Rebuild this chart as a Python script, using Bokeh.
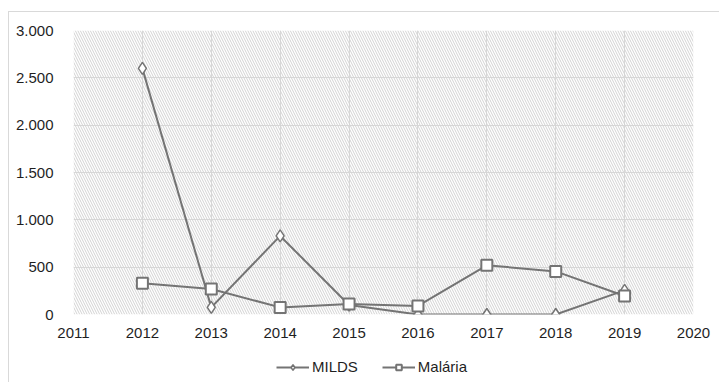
from bokeh.plotting import figure
from bokeh.layouts import column
from bokeh.models import BoxAnnotation, Legend, LegendItem, FixedTicker
from bokeh.embed import file_html
from bokeh.resources import INLINE

years = [2012, 2013, 2014, 2015, 2016, 2017, 2018, 2019]
milds = [2600, 75, 830, 100, 0, 0, 0, 255]
malaria = [330, 270, 75, 110, 90, 520, 455, 195]
y_ticks = [0, 500, 1000, 1500, 2000, 2500, 3000]
y_labels = ["0", "500", "1.000", "1.500", "2.000", "2.500", "3.000"]
x_ticks = list(range(2011, 2021))
series_names = ["MILDS", "Malária"]

FONT = "Liberation Sans"
TXT = "#1f1f1f"
GRID = "#d9d9d9"
LINE = "#747474"
FS = "15px"

p = figure(width=712, height=332, output_backend="svg", toolbar_location=None,
           x_range=(2011, 2020), y_range=(0, 3000),
           min_border_left=64, min_border_right=28, min_border_top=18, min_border_bottom=30)

p.add_layout(BoxAnnotation(fill_alpha=0, line_alpha=0, hatch_pattern="\\",
                           hatch_color="#d2d2d2", hatch_scale=5, hatch_weight=1,
                           level="underlay"))

p.xaxis.ticker = FixedTicker(ticks=x_ticks)
p.yaxis.ticker = FixedTicker(ticks=y_ticks)
p.yaxis.major_label_overrides = {t: l for t, l in zip(y_ticks, y_labels)}
for ax in (p.xaxis, p.yaxis):
    ax.axis_line_color = None
    ax.major_tick_line_color = None
    ax.minor_tick_line_color = None
    ax.major_label_text_font = FONT
    ax.major_label_text_font_size = FS
    ax.major_label_text_color = TXT
p.yaxis.major_label_standoff = 14
p.xaxis.major_label_standoff = 7
p.xgrid.grid_line_color = GRID
p.ygrid.grid_line_color = GRID
p.outline_line_color = None

p.line(years, milds, line_color=LINE, line_width=2)
p.scatter(years, milds, marker="diamond", size=12, line_color=LINE, line_width=1.5, fill_color="white")
p.line(years, malaria, line_color=LINE, line_width=2)
p.scatter(years, malaria, marker="square", size=11, line_color=LINE, line_width=2, fill_color="white")

# legend strip below the chart (series drawn out of view; only the legend shows)
lf = figure(width=712, height=38, output_backend="svg", toolbar_location=None,
            x_range=(0, 1), y_range=(0, 1),
            min_border=0, x_axis_location=None, y_axis_location=None)
lf.grid.visible = False
lf.outline_line_color = None
ll1 = lf.line(years, milds, line_color=LINE, line_width=2)
lm1 = lf.scatter(years, milds, marker="diamond", size=9, line_color=LINE, line_width=1.5, fill_color="white")
ll2 = lf.line(years, malaria, line_color=LINE, line_width=2)
lm2 = lf.scatter(years, malaria, marker="square", size=10, line_color=LINE, line_width=2, fill_color="white")

legend = Legend(items=[LegendItem(label=series_names[0], renderers=[ll1, lm1]),
                       LegendItem(label=series_names[1], renderers=[ll2, lm2])],
                orientation="horizontal", location=(203, 7),
                label_text_font=FONT, label_text_font_size=FS, label_text_color=TXT,
                glyph_width=33, glyph_height=14, label_height=14, label_standoff=3, spacing=24,
                border_line_color=None, background_fill_alpha=0, margin=0, padding=4)
lf.add_layout(legend, "center")

layout = column(p, lf, spacing=0,
                styles={"margin-left": "8px", "margin-top": "11px",
                        "border-left": "1px solid #d9d9d9", "border-top": "1px solid #d9d9d9"})

open("out.html", "w").write(file_html(layout, INLINE))
